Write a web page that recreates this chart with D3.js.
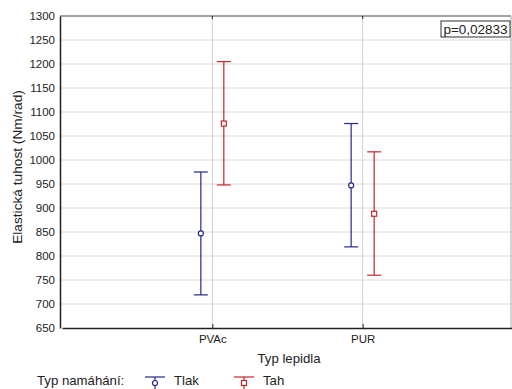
<!DOCTYPE html>
<html><head><meta charset="utf-8">
<script src="https://cdn.jsdelivr.net/npm/d3@7"></script>
<style>body{margin:0;background:#fff}svg{display:block;font-family:Arial,"Liberation Sans",sans-serif}</style>
</head><body><svg id="c" width="512" height="389"></svg>
<script>
const categories = ["PVAc", "PUR"];
const seriesNames = ["Tlak", "Tah"];
const tlakMean = [847, 947];
const tlakLow = [719, 819];
const tlakHigh = [975, 1076];
const tahMean = [1076, 888];
const tahLow = [948, 760];
const tahHigh = [1205, 1017];
const yTicks = [650,700,750,800,850,900,950,1000,1050,1100,1150,1200,1250,1300];
const pText = "p=0,02833";

const svg = d3.select("#c");
const L = 60, R = 511, T = 16, B = 328;
const colors = {Tlak: "#27278f", Tah: "#c3262c"};
const x = d3.scalePoint().domain(categories).range([L + 2, R + 2]).padding(1);
const y = d3.scaleLinear().domain([650, 1300]).range([B, T]);
const off = d3.scalePoint().domain(seriesNames).range([-11.5, 11.5]);
const FONT = "Arial, 'Liberation Sans', sans-serif";

// grid
svg.append("g").selectAll("line").data(yTicks.slice(1)).join("line")
  .attr("x1", L).attr("x2", R).attr("y1", d => y(d)).attr("y2", d => y(d))
  .attr("stroke", "#dcdcdc").attr("stroke-width", 1);
svg.append("g").selectAll("line").data(categories).join("line")
  .attr("x1", d => x(d)).attr("x2", d => x(d)).attr("y1", T).attr("y2", B)
  .attr("stroke", "#d0d0d0").attr("stroke-width", 1);
// frame
svg.append("line").attr("x1", L).attr("x2", R).attr("y1", T).attr("y2", T).attr("stroke", "#8a8a8a").attr("stroke-width", 1.5);
svg.append("line").attr("x1", R).attr("x2", R).attr("y1", T).attr("y2", B).attr("stroke", "#aaa").attr("stroke-width", 1);

// axes
const yAxis = svg.append("g").attr("transform", `translate(${L},0)`)
  .call(d3.axisLeft(y).tickValues(yTicks).tickFormat(d3.format("d")).tickSize(0).tickPadding(5));
yAxis.select(".domain").attr("stroke", "#222").attr("stroke-width", 1.5);
yAxis.selectAll("text").attr("font-size", 11.5).attr("fill", "#222").attr("font-family", FONT);
const xAxis = svg.append("g").attr("transform", `translate(0,${B})`)
  .call(d3.axisBottom(x).tickSize(4).tickPadding(3).tickSizeOuter(0));
xAxis.select(".domain").attr("stroke", "#222").attr("stroke-width", 1.5);
xAxis.selectAll(".tick line").attr("stroke", "#222").attr("transform", "translate(0,-4)");
xAxis.selectAll("text").attr("font-size", 11.5).attr("fill", "#222").attr("font-family", FONT);
// top ticks
svg.append("g").selectAll("line").data(categories).join("line")
  .attr("x1", d => x(d)).attr("x2", d => x(d)).attr("y1", T).attr("y2", T + 3).attr("stroke", "#222");

// titles
svg.append("text").attr("x", 289).attr("y", 363).attr("text-anchor", "middle")
  .attr("font-size", 13.2).attr("fill", "#222").text("Typ lepidla");
svg.append("text").attr("transform", `translate(22,167) rotate(-90)`).attr("text-anchor", "middle")
  .attr("font-size", 13.7).attr("fill", "#222").text("Elastická tuhost (Nm/rad)");

// p box
const pg = svg.append("g");
pg.append("rect").attr("x", 441).attr("y", 21).attr("width", 69).attr("height", 16)
  .attr("fill", "#fff").attr("stroke", "#333").attr("stroke-width", 1);
pg.append("text").attr("x", 475.5).attr("y", 34).attr("text-anchor", "middle")
  .attr("font-size", 13.5).attr("fill", "#222").text(pText);

// error bars
const series = [
  {name: "Tlak", mean: tlakMean, low: tlakLow, high: tlakHigh},
  {name: "Tah", mean: tahMean, low: tahLow, high: tahHigh}
];
const cap = 7;
function marker(g, name, cx, cy) {
  if (name === "Tlak") {
    g.append("circle").attr("cx", cx).attr("cy", cy).attr("r", 2.5).attr("fill", "#fff")
      .attr("stroke", colors[name]).attr("stroke-width", 1.2);
  } else {
    g.append("rect").attr("x", cx - 2.5).attr("y", cy - 2.5).attr("width", 5).attr("height", 5).attr("fill", "#fff")
      .attr("stroke", colors[name]).attr("stroke-width", 1.2);
  }
}
series.forEach(s => {
  const g = svg.append("g");
  categories.forEach((c, i) => {
    const cx = x(c) + off(s.name);
    g.append("line").attr("x1", cx).attr("x2", cx).attr("y1", y(s.high[i])).attr("y2", y(s.low[i]))
      .attr("stroke", colors[s.name]).attr("stroke-width", 1.2);
    [s.high[i], s.low[i]].forEach(v => {
      g.append("line").attr("x1", cx - cap).attr("x2", cx + cap).attr("y1", y(v)).attr("y2", y(v))
        .attr("stroke", colors[s.name]).attr("stroke-width", 1.2);
    });
    marker(g, s.name, cx, y(s.mean[i]));
  });
});

// legend
const lg = svg.append("g");
lg.append("text").attr("x", 37).attr("y", 385).attr("font-size", 13.2).attr("fill", "#222").text("Typ namáhání:");
const legPos = {Tlak: 155, Tah: 244};
seriesNames.forEach(n => {
  const cx = legPos[n];
  lg.append("line").attr("x1", cx - 10).attr("x2", cx + 10).attr("y1", 377).attr("y2", 377).attr("stroke", colors[n]).attr("stroke-width", 1.2);
  lg.append("line").attr("x1", cx).attr("x2", cx).attr("y1", 377).attr("y2", 389).attr("stroke", colors[n]).attr("stroke-width", 1.2);
  marker(lg, n, cx, 383);
  lg.append("text").attr("x", cx + 19).attr("y", 385).attr("font-size", 13.2).attr("fill", "#222").text(n);
});
</script></body></html>
